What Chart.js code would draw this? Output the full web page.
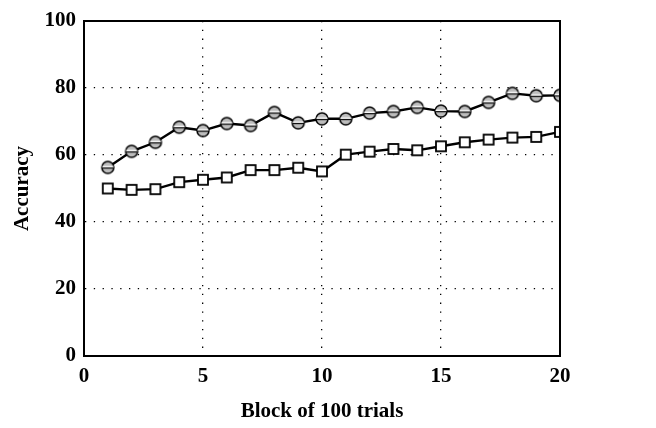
<!DOCTYPE html>
<html>
<head>
<meta charset="utf-8">
<script src="https://cdn.jsdelivr.net/npm/chart.js@4/dist/chart.umd.min.js"></script>
<style>
html,body{margin:0;padding:0;background:#fff;}
#wrap{width:656px;height:428px;}
</style>
</head>
<body>
<div id="wrap"><canvas id="c" width="656" height="428"></canvas></div>
<script>
const blocks = [1,2,3,4,5,6,7,8,9,10,11,12,13,14,15,16,17,18,19,20];
const circleSeries = [56.3,61.1,63.8,68.3,67.3,69.4,68.8,72.7,69.6,70.8,70.8,72.5,73.0,74.2,73.1,73.0,75.7,78.4,77.7,77.8];
const squareSeries = [50.0,49.6,49.8,51.9,52.6,53.3,55.5,55.5,56.2,55.1,60.1,61.0,61.8,61.4,62.6,63.8,64.6,65.2,65.4,66.9];
const xTicks = [0,5,10,15,20];
const yTicks = [0,20,40,60,80,100];

function circleMarker(){
  const cv = document.createElement('canvas');
  cv.width = 16; cv.height = 16;
  const g = cv.getContext('2d');
  g.beginPath(); g.arc(8,8,6,0,Math.PI*2);
  g.fillStyle = '#bdbdbd'; g.fill();
  g.lineWidth = 1.5; g.strokeStyle = '#000'; g.stroke();
  g.fillStyle = '#ffffff'; g.fillRect(2.5,6.6,11,1.4);
  g.fillStyle = '#000000'; g.fillRect(2.5,8.0,11,1.2);
  return cv;
}
function squareMarker(){
  const cv = document.createElement('canvas');
  cv.width = 14; cv.height = 14;
  const g = cv.getContext('2d');
  g.fillStyle = '#fff'; g.fillRect(2,2,10,10);
  g.lineWidth = 1.8; g.strokeStyle = '#000'; g.strokeRect(2,2,10,10);
  return cv;
}

const frame = {
  id:'frame',
  afterDatasetsDraw(chart){
    const a = chart.chartArea, ctx = chart.ctx;
    ctx.save();
    ctx.strokeStyle = '#000'; ctx.lineWidth = 2;
    ctx.strokeRect(a.left, a.top, a.right-a.left, a.bottom-a.top);
    ctx.restore();
  }
};

const font = {family:'"Liberation Serif", "DejaVu Serif", serif', weight:'bold', size:21};

new Chart(document.getElementById('c'), {
  type:'line',
  data:{
    datasets:[
      {data:blocks.map((x,i)=>({x, y:circleSeries[i]})), borderColor:'#000', borderWidth:2.4,
       pointStyle:circleMarker(), pointRadius:6, tension:0, order:1},
      {data:blocks.map((x,i)=>({x, y:squareSeries[i]})), borderColor:'#000', borderWidth:2.4,
       pointStyle:squareMarker(), pointRadius:5, tension:0, order:2}
    ]
  },
  options:{
    responsive:false, animation:false, devicePixelRatio:1,
    layout:{padding:{left:0, top:21, right:96, bottom:0}},
    plugins:{legend:{display:false}, tooltip:{enabled:false}},
    scales:{
      x:{type:'linear', min:0, max:20,
        afterBuildTicks(s){ s.ticks = xTicks.map(v=>({value:v})); },
        afterFit(s){ s.height = 72; },
        ticks:{color:'#000', font, padding:8, maxRotation:0},
        grid:{drawTicks:false, color:c=>(c.tick && (c.tick.value===0||c.tick.value===20))?'rgba(0,0,0,0)':'#000', lineWidth:1.3},
        border:{display:true, color:'#000', width:2, dash:[1.3,7.5]},
        title:{display:true, text:'Block of 100 trials', color:'#000', font, padding:{top:4}}
      },
      y:{type:'linear', min:0, max:100,
        afterBuildTicks(s){ s.ticks = yTicks.map(v=>({value:v})); },
        afterFit(s){ s.width = 84; },
        ticks:{color:'#000', font, padding:8},
        grid:{drawTicks:false, color:c=>(c.tick && (c.tick.value===0||c.tick.value===100))?'rgba(0,0,0,0)':'#000', lineWidth:1.3},
        border:{display:true, color:'#000', width:2, dash:[1.3,7.5]},
        title:{display:true, text:'Accuracy', color:'#000', font, padding:{top:10, bottom:4}}
      }
    }
  },
  plugins:[frame]
});
</script>
</body>
</html>
